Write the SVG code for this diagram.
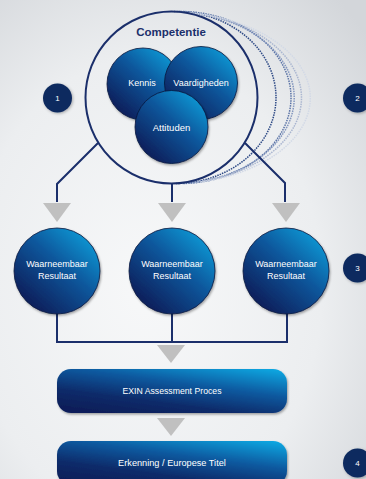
<svg xmlns="http://www.w3.org/2000/svg" width="366" height="479" viewBox="0 0 366 479">
<defs>
<radialGradient id="bg" cx="0.4" cy="0.6" r="0.8">
<stop offset="0" stop-color="#f7f8f9"/>
<stop offset="0.6" stop-color="#eceef0"/>
<stop offset="1" stop-color="#d3d6da"/>
</radialGradient>
<linearGradient id="ball" x1="0.9" y1="0.1" x2="0.2" y2="0.9">
<stop offset="0" stop-color="#0c9ad6"/>
<stop offset="0.45" stop-color="#0b579c"/>
<stop offset="1" stop-color="#0a1f5b"/>
</linearGradient>
<linearGradient id="bar" x1="0.95" y1="0" x2="0.25" y2="1">
<stop offset="0" stop-color="#11a8e2"/>
<stop offset="0.4" stop-color="#0b5aa0"/>
<stop offset="0.75" stop-color="#0a2b6a"/>
<stop offset="1" stop-color="#0a1f5a"/>
</linearGradient>
<filter id="sh" x="-20%" y="-20%" width="140%" height="140%">
<feDropShadow dx="1" dy="1.5" stdDeviation="1.2" flood-color="#000" flood-opacity="0.35"/>
</filter>
<filter id="halo" x="-40%" y="-40%" width="180%" height="180%">
<feDropShadow dx="1" dy="1" stdDeviation="1.5" flood-color="#000" flood-opacity="0.3"/>
</filter>
</defs>
<style>
.ball{fill:url(#ball);stroke:#08163d;stroke-width:0.8;filter:url(#sh)}
.bar{fill:url(#bar);filter:url(#sh)}
.num{fill:#0e2a5e;filter:url(#halo)}
.wt{fill:#ffffff;font-family:"Liberation Sans",Arial,sans-serif;text-anchor:middle;dominant-baseline:central}
.line{fill:none;stroke:#1b2f6b;stroke-width:2}
.arrow{fill:#c0c0c0}
.echo{fill:none;stroke-width:1.5;stroke-dasharray:1.5 1}
</style>
<rect width="366" height="479" fill="url(#bg)"/>

<g id="echoes">
<path class="echo" stroke="#2e4a86" d="M174 11.5 A101 86 0 0 1 176 183.5"/>
<path class="echo" stroke="#5a73a6" d="M178 11.5 A111 86 0 0 1 182 183.5"/>
<path class="echo" stroke="#8295bd" d="M182 12 A122 86 0 0 1 188 183"/>
<path class="echo" stroke="#aab6d0" d="M186 12.5 A131 86 0 0 1 194 182.5"/>
<path class="echo" stroke="#d2d9e6" d="M190 13 A141 86 0 0 1 200 182"/>
</g>

<g id="connectors">
<polyline class="line" points="98,143 57,184 57,202"/>
<polyline class="line" points="245,143 285,183 285,202"/>
<line class="line" x1="172" y1="183" x2="172" y2="202"/>
<polyline class="line" points="57,313 57,342 287,342 287,313"/>
<line class="line" x1="172" y1="313" x2="172" y2="342"/>
<polygon class="arrow" points="43,203 71,203 57,222"/>
<polygon class="arrow" points="158,203 186,203 172,222"/>
<polygon class="arrow" points="272,203 300,203 286,222"/>
<polygon class="arrow" points="157,345 185,345 171,363"/>
<polygon class="arrow" points="157,418 185,418 171,436"/>
</g>

<g id="competentie">
<circle cx="171.5" cy="97.5" r="86" fill="none" stroke="#1b2f6b" stroke-width="2"/>
<text x="171" y="32" font-family="'Liberation Sans',Arial,sans-serif" font-size="11.5" font-weight="bold" fill="#1b2f6b" text-anchor="middle" dominant-baseline="central">Competentie</text>
</g>

<g id="kennis">
<circle class="ball" cx="143" cy="84" r="36"/>
<text class="wt" x="142" y="83" font-size="9">Kennis</text>
</g>
<g id="vaardigheden">
<circle class="ball" cx="201" cy="83" r="36.5"/>
<text class="wt" x="201" y="83" font-size="9">Vaardigheden</text>
</g>
<g id="attituden">
<circle class="ball" cx="171.5" cy="127" r="36.5"/>
<text class="wt" x="171.5" y="127" font-size="9.5">Attituden</text>
</g>

<g id="resultaat1">
<circle class="ball" cx="57" cy="271" r="43"/>
<text class="wt" x="57" y="264" font-size="9">Waarneembaar</text>
<text class="wt" x="57" y="276" font-size="9">Resultaat</text>
</g>
<g id="resultaat2">
<circle class="ball" cx="172" cy="271" r="43"/>
<text class="wt" x="172" y="264" font-size="9">Waarneembaar</text>
<text class="wt" x="172" y="276" font-size="9">Resultaat</text>
</g>
<g id="resultaat3">
<circle class="ball" cx="286" cy="271" r="43"/>
<text class="wt" x="286" y="264" font-size="9">Waarneembaar</text>
<text class="wt" x="286" y="276" font-size="9">Resultaat</text>
</g>

<g id="assessment">
<rect class="bar" x="57" y="369" width="230" height="44" rx="14"/>
<text class="wt" x="172" y="391" font-size="8.7">EXIN Assessment Proces</text>
</g>
<g id="erkenning">
<rect class="bar" x="57" y="441" width="230" height="44" rx="14"/>
<text class="wt" x="172" y="463" font-size="9.2">Erkenning / Europese Titel</text>
</g>

<g id="n1"><circle class="num" cx="57.5" cy="98" r="14.5"/><text class="wt" x="57.5" y="98" font-size="8">1</text></g>
<g id="n2"><circle class="num" cx="357.5" cy="98" r="14.5"/><text class="wt" x="357.5" y="98" font-size="8">2</text></g>
<g id="n3"><circle class="num" cx="357.5" cy="268" r="14.5"/><text class="wt" x="357.5" y="268" font-size="8">3</text></g>
<g id="n4"><circle class="num" cx="357.5" cy="463" r="14.5"/><text class="wt" x="357.5" y="463" font-size="8">4</text></g>
</svg>
